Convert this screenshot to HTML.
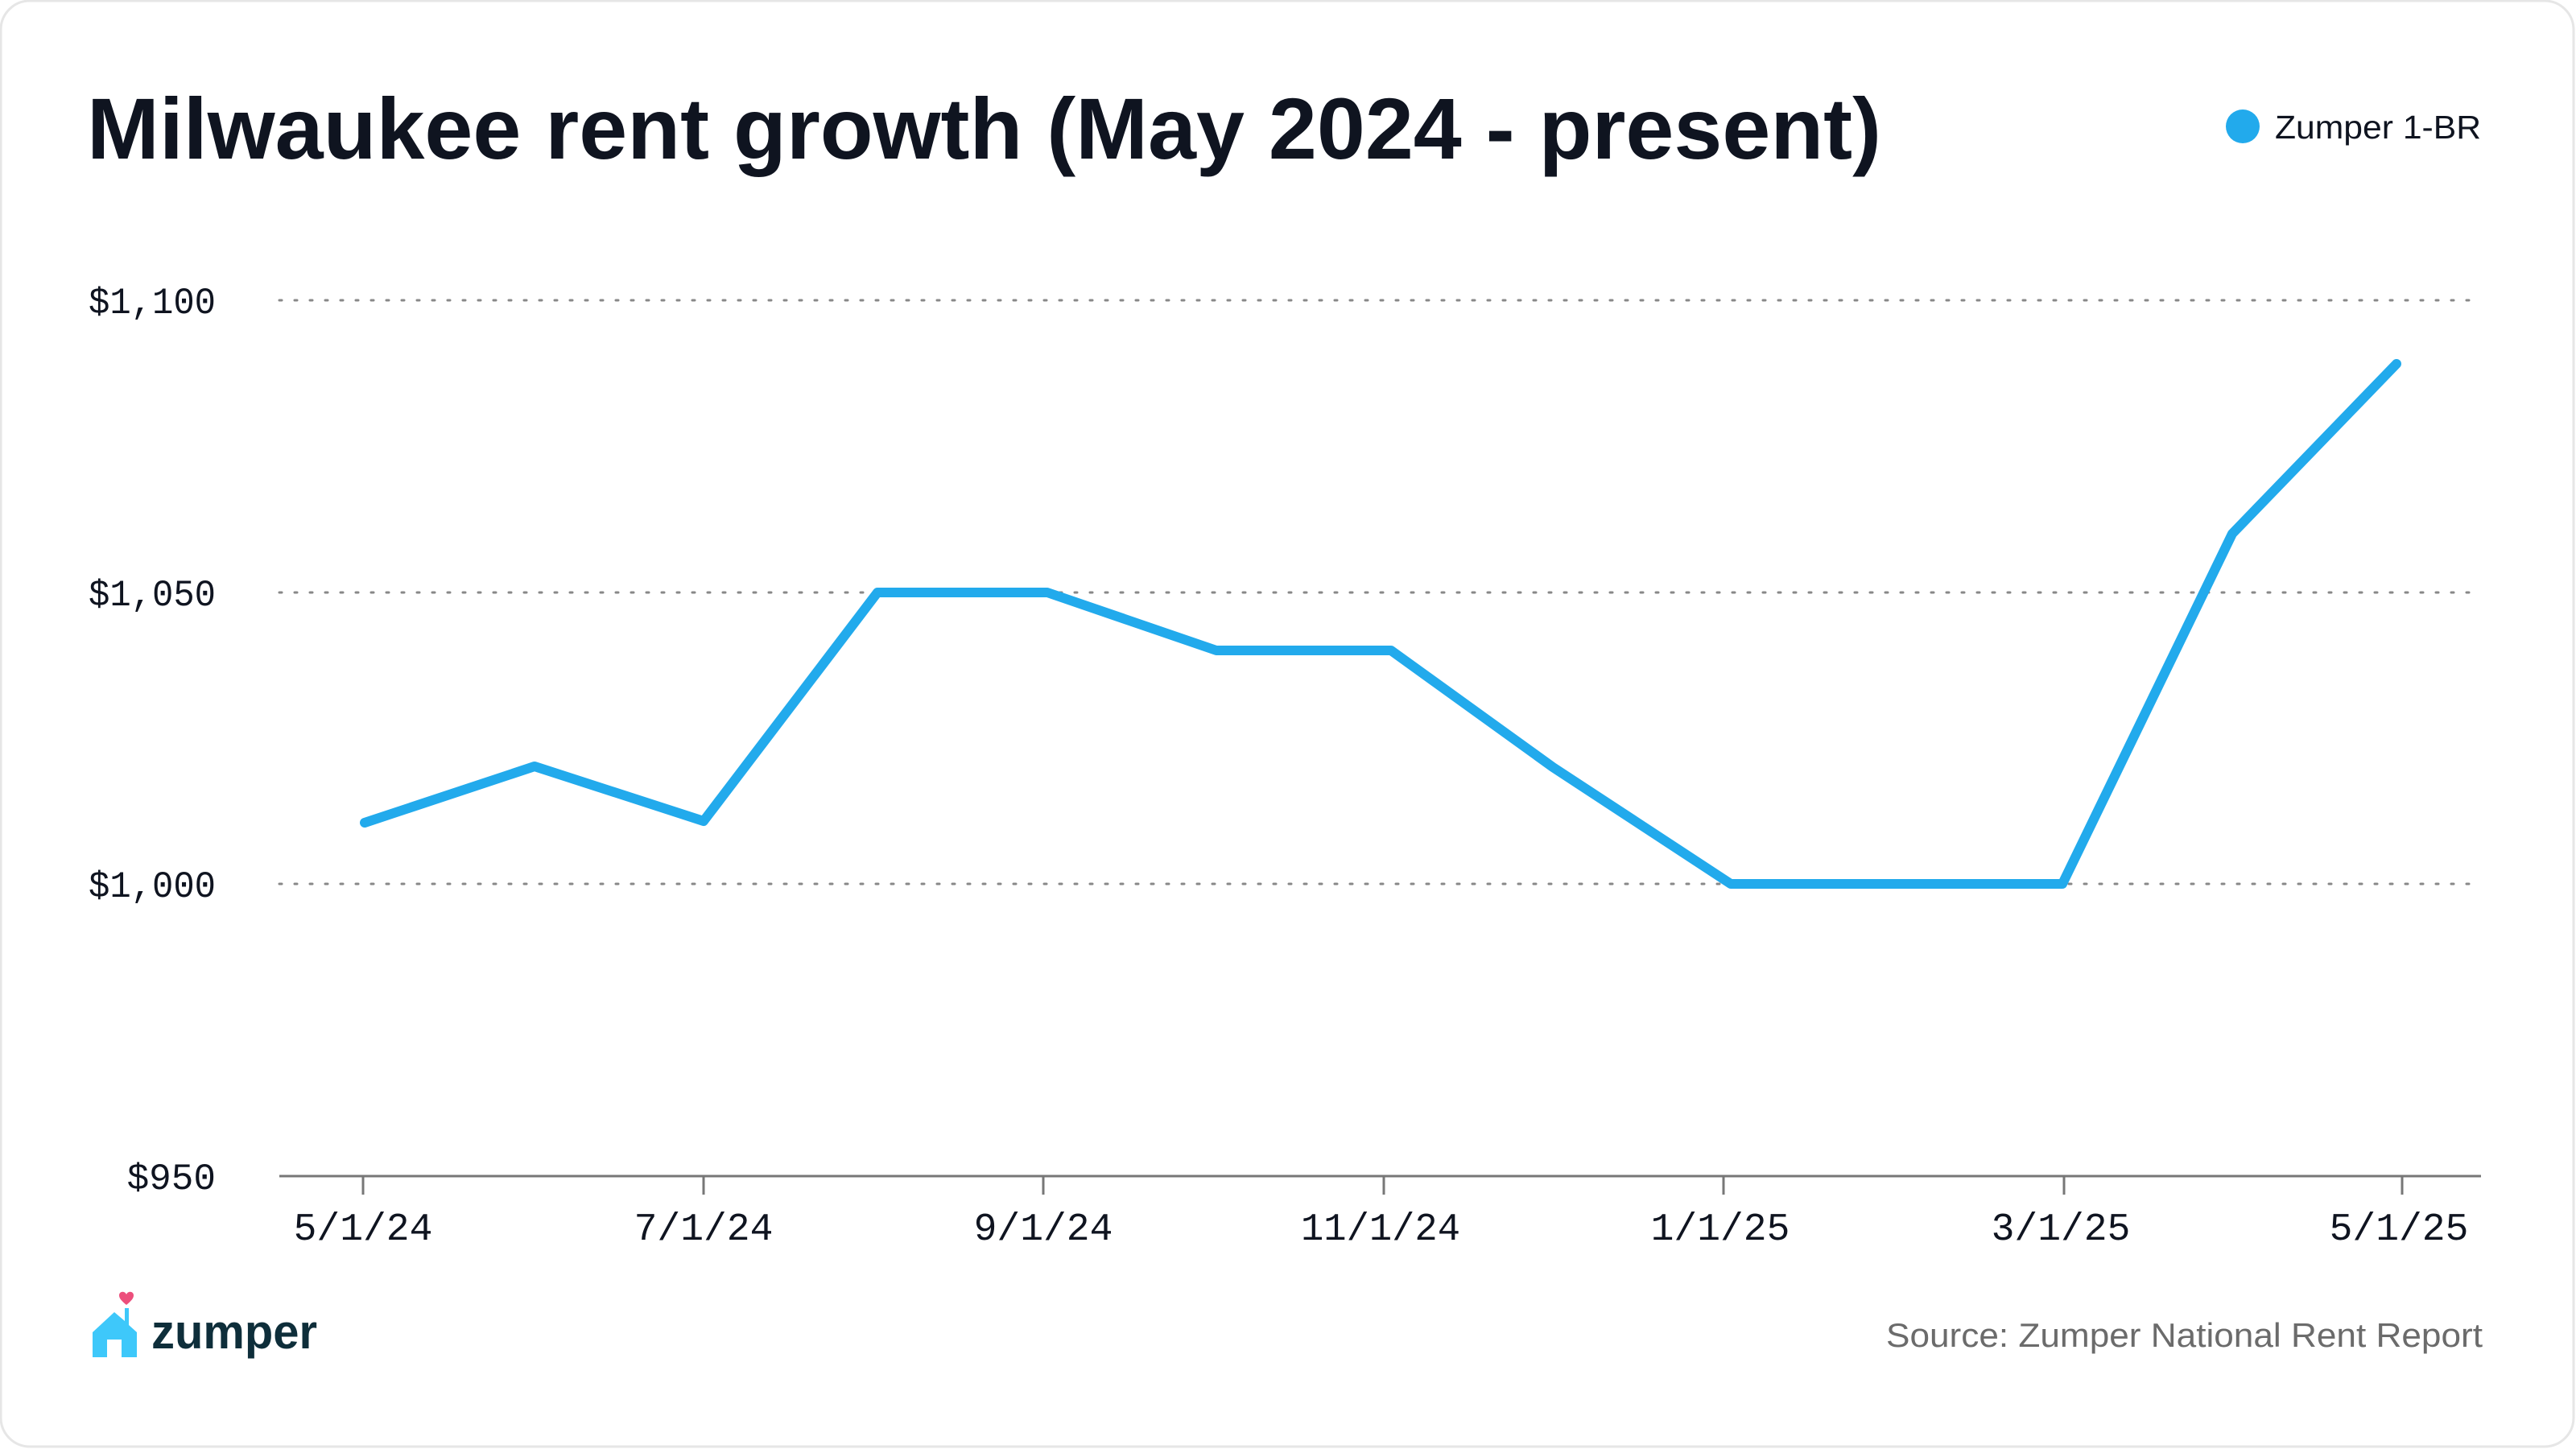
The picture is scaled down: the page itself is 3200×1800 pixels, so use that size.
<!DOCTYPE html>
<html><head><meta charset="utf-8"><style>
html,body{margin:0;padding:0;background:#fff;}
svg{display:block;}
</style></head><body>
<svg width="3200" height="1800" viewBox="0 0 3200 1800" xmlns="http://www.w3.org/2000/svg">
<rect x="1" y="1" width="3196" height="1796" rx="36" fill="#fff" stroke="#e6e6e6" stroke-width="3"/>
<text x="108" y="197" textLength="2229" lengthAdjust="spacingAndGlyphs" font-family="Liberation Sans, sans-serif" font-size="108" font-weight="bold" fill="#0f1420">Milwaukee rent growth (May 2024 - present)</text>
<circle cx="2786" cy="157" r="21" fill="#22aaec"/>
<text x="2826" y="172" textLength="256" lengthAdjust="spacingAndGlyphs" font-family="Liberation Sans, sans-serif" font-size="41" fill="#0f1420">Zumper 1-BR</text>
<g stroke="#888" stroke-width="3" stroke-dasharray="3 16" stroke-linecap="round">
<line x1="347" y1="373" x2="3082" y2="373"/>
<line x1="347" y1="736" x2="3082" y2="736"/>
<line x1="347" y1="1098" x2="3082" y2="1098"/>
</g>
<g font-family="Liberation Mono, monospace" font-size="46" fill="#0f1420" text-anchor="end">
<text x="268" y="389" textLength="158" lengthAdjust="spacingAndGlyphs">$1,100</text>
<text x="268" y="752" textLength="158" lengthAdjust="spacingAndGlyphs">$1,050</text>
<text x="268" y="1114" textLength="158" lengthAdjust="spacingAndGlyphs">$1,000</text>
<text x="268" y="1477">$950</text>
</g>
<line x1="347" y1="1461" x2="3082" y2="1461" stroke="#777" stroke-width="3"/>
<g stroke="#777" stroke-width="3">
<line x1="451" y1="1461" x2="451" y2="1484"/>
<line x1="874" y1="1461" x2="874" y2="1484"/>
<line x1="1296" y1="1461" x2="1296" y2="1484"/>
<line x1="1719" y1="1461" x2="1719" y2="1484"/>
<line x1="2141" y1="1461" x2="2141" y2="1484"/>
<line x1="2564" y1="1461" x2="2564" y2="1484"/>
<line x1="2984" y1="1461" x2="2984" y2="1484"/>
</g>
<g font-family="Liberation Mono, monospace" font-size="48" fill="#0f1420" text-anchor="middle">
<text x="451" y="1540">5/1/24</text>
<text x="874" y="1540">7/1/24</text>
<text x="1296" y="1540">9/1/24</text>
<text x="1715" y="1540" textLength="198" lengthAdjust="spacingAndGlyphs">11/1/24</text>
<text x="2137" y="1540">1/1/25</text>
<text x="2560" y="1540">3/1/25</text>
<text x="2980" y="1540">5/1/25</text>
</g>
<polyline fill="none" stroke="#22aaec" stroke-width="12" stroke-linejoin="round" stroke-linecap="round"
points="453,1022 664,952 874,1020 1090,736 1301,736 1511,808 1728,808 1929,953 2150,1098 2351,1098 2562,1098 2773,663 2977,452"/>
<g>
<path d="M142 1630 L115 1655 L115 1686 L133 1686 L133 1664 L151 1664 L151 1686 L170 1686 L170 1655 L160 1646 L160 1625 L155 1625 L155 1641 Z" fill="#3ec8fa"/>
<path d="M157 1621 c-6 -5 -9 -8 -9 -12 c0 -5 7 -6 9 -1 c2 -5 9 -4 9 1 c0 4 -3 7 -9 12z" fill="#ec4f7c"/>
<text x="188" y="1675" textLength="206" lengthAdjust="spacingAndGlyphs" font-family="Liberation Sans, sans-serif" font-size="60" font-weight="bold" fill="#0e2e3a">zumper</text>
</g>
<text x="2343" y="1673" textLength="741" lengthAdjust="spacingAndGlyphs" font-family="Liberation Sans, sans-serif" font-size="42" fill="#6b6b6b">Source: Zumper National Rent Report</text>
</svg>
</body></html>
